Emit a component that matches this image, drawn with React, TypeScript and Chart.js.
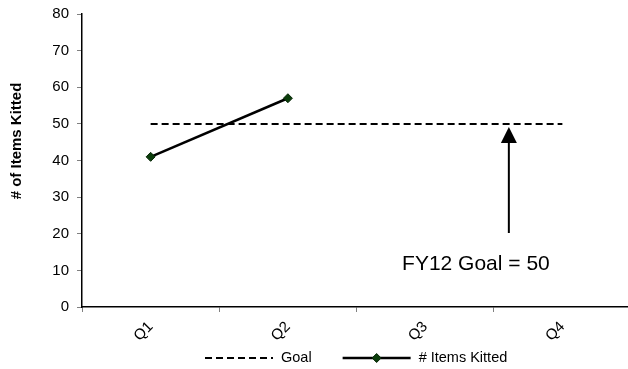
import React, { useEffect, useRef } from "react";
import { Chart, registerables } from "chart.js";

Chart.register(...registerables);

const categories = ["Q1", "Q2", "Q3", "Q4"];
const goalValues = [50, 50, 50, 50];
const kittedValues: (number | null)[] = [41, 57, null, null];
const yMin = 0;
const yMax = 80;
const yStep = 10;
const yAxisTitle = "# of Items Kitted";
const goalLabel = "Goal";
const kittedLabel = "# Items Kitted";
const annotationText = "FY12 Goal = 50";
// annotation anchor positions in data space (category index, value)
const arrowX = 2.61;
const arrowFrom = 20.2;
const arrowTo = 50;
const textX = 2.37;
const textY = 11.7;

const FONT = "'Liberation Sans', Arial, sans-serif";

const overlayPlugin = {
  id: "overlay",
  afterLayout(chart: any) {
    // plot area in the reference runs slightly past the right canvas edge
    const xs = chart.scales.x;
    const target = chart.width + 3;
    const extra = target - xs.right;
    if (extra > 0) {
      xs.right += extra;
      xs.width += extra;
      chart.chartArea.right += extra;
      chart.chartArea.width += extra;
      xs.configure();
    }
  },
  afterDraw(chart: any) {
    const ctx = chart.ctx as CanvasRenderingContext2D;
    const xs = chart.scales.x;
    const ys = chart.scales.y;
    ctx.save();

    // y-axis title
    ctx.save();
    ctx.translate(17, 141);
    ctx.rotate(-Math.PI / 2);
    ctx.font = `bold 15px ${FONT}`;
    ctx.fillStyle = "#000";
    ctx.textAlign = "center";
    ctx.textBaseline = "middle";
    ctx.fillText(yAxisTitle, 0, 0);
    ctx.restore();

    // arrow annotation
    const ax = xs.getPixelForValue(arrowX);
    const y0 = ys.getPixelForValue(arrowFrom);
    const y1 = ys.getPixelForValue(arrowTo) + 3;
    ctx.strokeStyle = "#000";
    ctx.fillStyle = "#000";
    ctx.lineWidth = 2;
    ctx.beginPath();
    ctx.moveTo(ax, y0);
    ctx.lineTo(ax, y1 + 12);
    ctx.stroke();
    ctx.beginPath();
    ctx.moveTo(ax, y1);
    ctx.lineTo(ax - 8, y1 + 16);
    ctx.lineTo(ax + 8, y1 + 16);
    ctx.closePath();
    ctx.fill();

    ctx.font = `21px ${FONT}`;
    ctx.textAlign = "center";
    ctx.textBaseline = "middle";
    ctx.fillText(annotationText, xs.getPixelForValue(textX), ys.getPixelForValue(textY));

    // legend
    const ly = 358;
    ctx.font = `14.5px ${FONT}`;
    ctx.textBaseline = "middle";
    ctx.textAlign = "left";
    const lineLen = 68;
    const gapText = 8;
    const gapItems = 31;
    let lx = 205;
    ctx.lineWidth = 2;
    ctx.setLineDash([7, 4]);
    ctx.beginPath();
    ctx.moveTo(lx, ly);
    ctx.lineTo(lx + lineLen, ly);
    ctx.stroke();
    ctx.setLineDash([]);
    ctx.fillText(goalLabel, lx + lineLen + gapText, ly);
    lx += lineLen + gapText + ctx.measureText(goalLabel).width + gapItems;
    ctx.lineWidth = 2.5;
    ctx.beginPath();
    ctx.moveTo(lx, ly);
    ctx.lineTo(lx + lineLen, ly);
    ctx.stroke();
    const cx = lx + lineLen / 2;
    ctx.fillStyle = "#0b3d0b";
    ctx.strokeStyle = "#062606";
    ctx.lineWidth = 1;
    ctx.beginPath();
    ctx.moveTo(cx, ly - 4.5);
    ctx.lineTo(cx + 4.5, ly);
    ctx.lineTo(cx, ly + 4.5);
    ctx.lineTo(cx - 4.5, ly);
    ctx.closePath();
    ctx.fill();
    ctx.stroke();
    ctx.fillStyle = "#000";
    ctx.fillText(kittedLabel, lx + lineLen + gapText, ly);

    ctx.restore();
  },
};

export default function App() {
  const ref = useRef<HTMLCanvasElement>(null);
  useEffect(() => {
    if (!ref.current) return;
    const chart = new Chart(ref.current, {
      type: "line",
      data: {
        labels: categories,
        datasets: [
          {
            label: goalLabel,
            data: goalValues,
            borderColor: "#000",
            borderWidth: 2,
            borderDash: [7, 4],
            pointRadius: 0,
            fill: false,
          },
          {
            label: kittedLabel,
            data: kittedValues,
            borderColor: "#000",
            borderWidth: 2.5,
            pointStyle: "rectRot",
            pointRadius: 4.5,
            pointBackgroundColor: "#0b3d0b",
            pointBorderColor: "#062606",
            pointBorderWidth: 1,
            fill: false,
            spanGaps: false,
          },
        ],
      },
      options: {
        animation: false,
        responsive: false,
        devicePixelRatio: 1,
        layout: { padding: { top: 14, right: 0, bottom: 0, left: 0 } },
        plugins: { legend: { display: false }, tooltip: { enabled: false } },
        scales: {
          x: {
            type: "category",
            offset: true,
            afterFit: (s: any) => {
              s.height = 62;
              s.paddingLeft = 0;
              s.paddingRight = 0;
            },
            grid: {
              display: true,
              offset: true,
              drawOnChartArea: false,
              drawTicks: true,
              tickLength: 5,
              color: "#808080",
            },
            border: { display: true, color: "#000", width: 1.5 },
            ticks: {
              font: { family: FONT, size: 15 },
              color: "#000",
              minRotation: 45,
              maxRotation: 45,
              padding: 6,
            },
          },
          y: {
            min: yMin,
            max: yMax,
            afterFit: (s: any) => {
              s.width = 82;
              s.paddingTop = 0;
              s.paddingBottom = 0;
            },
            grid: {
              display: true,
              drawOnChartArea: false,
              drawTicks: true,
              tickLength: 5,
              color: "#808080",
            },
            border: { display: true, color: "#000", width: 1.5 },
            ticks: {
              stepSize: yStep,
              font: { family: FONT, size: 15 },
              color: "#000",
              padding: 8,
            },
          },
        },
      },
      plugins: [overlayPlugin],
    });
    return () => chart.destroy();
  }, []);
  return (
    <div style={{ position: "fixed", left: 0, top: 0, width: 628, height: 369, background: "#fff" }}>
      <canvas ref={ref} width={628} height={369} style={{ width: 628, height: 369 }} />
    </div>
  );
}
